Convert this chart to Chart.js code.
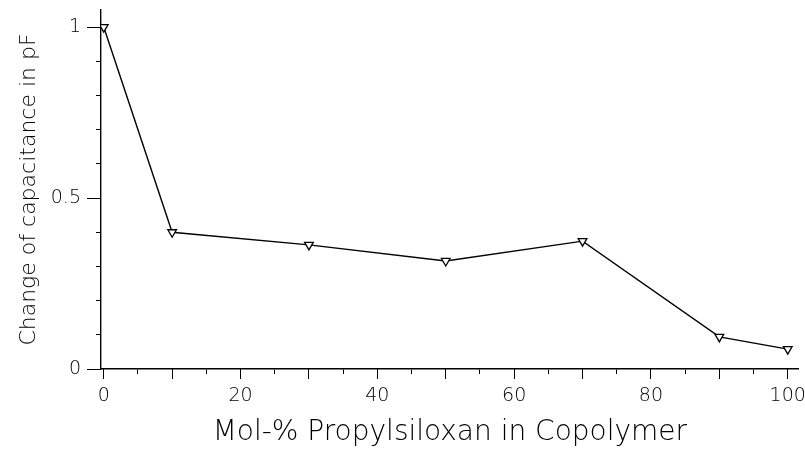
<!DOCTYPE html>
<html>
<head>
<meta charset="utf-8">
<script src="https://cdn.jsdelivr.net/npm/chart.js@4/dist/chart.umd.min.js"></script>
<style>
  html, body { margin: 0; padding: 0; background: #fff; }
  #wrap { width: 805px; height: 454px; }
</style>
</head>
<body>
<div id="wrap"><canvas id="grafico"></canvas></div>
<script>
const molPercent = [0, 10, 30, 50, 70, 90, 100];
const capacitance = [1.0, 0.40, 0.363, 0.316, 0.374, 0.094, 0.058];
const xMinorTicks = [0, 5, 10, 15, 20, 25, 30, 35, 40, 45, 50, 55, 60, 65, 70, 75, 80, 85, 90, 95, 100];
const xMajorTicks = [0, 10, 20, 30, 40, 50, 60, 70, 80, 90, 100];
const xTickLabels = ['0', '20', '40', '60', '80', '100'];
const yMinorTicks = [0, 0.1, 0.2, 0.3, 0.4, 0.5, 0.6, 0.7, 0.8, 0.9, 1.0];
const yMajorTicks = [0, 0.5, 1.0];
const yTickLabels = ['0', '0.5', '1'];

const fuente = "'DejaVu Sans', sans-serif";
const tinta = '#000';
const X_MIN = -0.4, X_MAX = 101.6, Y_MIN = 0, Y_MAX = 1.05;

const puntos = molPercent.map((x, i) => ({ x: x, y: capacitance[i] }));

// quita el relleno que Chart.js reserva para las etiquetas de los extremos
function sinRelleno(s) {
    s.paddingTop = 0; s.paddingBottom = 0;
    s.paddingLeft = 0; s.paddingRight = 0;
}

// eje sin etiquetas, solo marcas cortas pegadas al area del grafico
function ejeMenor(pos, valores, largo) {
    const horizontal = pos === 'bottom';
    return {
        type: 'linear',
        position: pos,
        weight: 0,
        min: horizontal ? X_MIN : Y_MIN,
        max: horizontal ? X_MAX : Y_MAX,
        afterBuildTicks: s => { s.ticks = valores.map(v => ({ value: v })); },
        afterFit: s => { if (horizontal) s.height = 0; else s.width = 0; sinRelleno(s); },
        border: { display: true, color: tinta, width: 1.4 },
        grid: { drawOnChartArea: false, drawTicks: true, tickLength: largo, color: tinta, lineWidth: 1 },
        ticks: { display: false, autoSkip: false }
    };
}

const config = {
    type: 'scatter',
    data: {
        datasets: [{
            data: puntos,
            xAxisID: 'x',
            yAxisID: 'y',
            showLine: true,
            borderColor: tinta,
            borderWidth: 1.4,
            pointStyle: 'triangle',
            rotation: 180,
            pointRadius: 5,
            pointBackgroundColor: '#fff',
            pointBorderColor: tinta,
            pointBorderWidth: 1.3,
            tension: 0
        }]
    },
    options: {
        responsive: true,
        maintainAspectRatio: false,
        animation: false,
        layout: { padding: { top: 10, right: 0, left: 0, bottom: 0 } },
        plugins: {
            legend: { display: false },
            tooltip: { enabled: false }
        },
        scales: {
            x: ejeMenor('bottom', xMinorTicks, 5),
            y: ejeMenor('left', yMinorTicks, 5),
            x2: {
                type: 'linear',
                position: 'bottom',
                weight: 1,
                min: X_MIN,
                max: X_MAX,
                afterBuildTicks: s => { s.ticks = xMajorTicks.map(v => ({ value: v })); },
                afterFit: s => { s.height = 85; sinRelleno(s); },
                border: { display: false },
                grid: { drawOnChartArea: false, drawTicks: true, tickLength: 10, color: tinta, lineWidth: 1 },
                ticks: {
                    autoSkip: false,
                    maxRotation: 0,
                    padding: 6,
                    color: tinta,
                    font: { family: fuente, size: 19, weight: 200 },
                    callback: v => xTickLabels.includes(String(v)) ? String(v) : ''
                },
                title: {
                    display: true,
                    text: 'Mol-% Propylsiloxan in Copolymer',
                    color: tinta,
                    font: { family: fuente, size: 28, weight: 200 },
                    padding: { top: 4, bottom: 4 }
                }
            },
            y2: {
                type: 'linear',
                position: 'left',
                weight: 1,
                min: Y_MIN,
                max: Y_MAX,
                afterBuildTicks: s => { s.ticks = yMajorTicks.map(v => ({ value: v })); },
                afterFit: s => { s.width = 101; sinRelleno(s); },
                border: { display: false },
                grid: { drawOnChartArea: false, drawTicks: true, tickLength: 14, color: tinta, lineWidth: 1 },
                ticks: {
                    autoSkip: false,
                    padding: 6,
                    color: tinta,
                    font: { family: fuente, size: 19, weight: 200 },
                    callback: v => {
                        const t = String(Math.round(v * 10) / 10);
                        return yTickLabels.includes(t) ? t : '';
                    }
                },
                title: {
                    display: true,
                    text: 'Change of capacitance in pF',
                    color: tinta,
                    font: { family: fuente, size: 22, weight: 200 },
                    padding: { top: 16, bottom: 4 }
                }
            }
        }
    }
};

new Chart(document.getElementById('grafico'), config);
</script>
</body>
</html>
